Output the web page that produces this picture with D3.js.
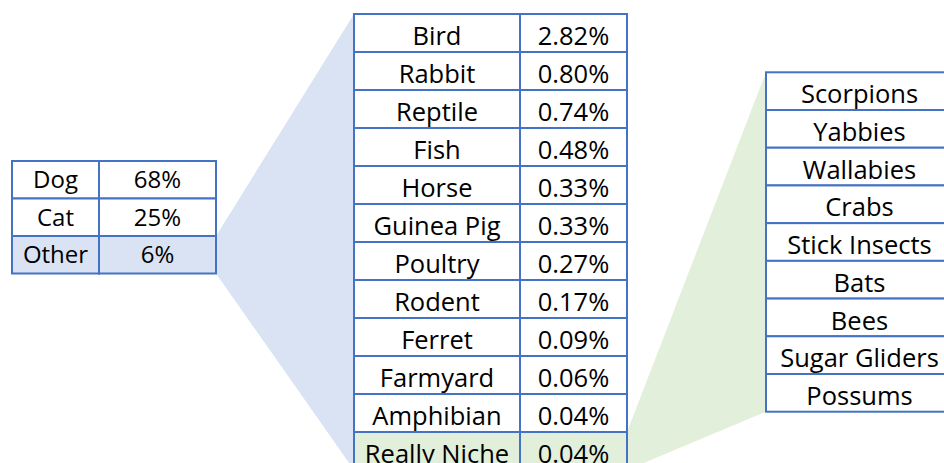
<!DOCTYPE html>
<html lang="en">
<head>
    <meta charset="UTF-8">
    <title>Pet Ownership Breakdown</title>
    <script src="https://d3js.org/d3.v7.min.js"></script>
    <style>
        body {
            margin: 0;
            background: #fff;
            overflow: hidden;
        }
        text {
            font-family: "Open Sans", Lato, sans-serif;
            fill: #000;
        }
    </style>
</head>
<body>
    <div id="chart"></div>

    <script>
        // main split
        const mainCats = ["Dog", "Cat", "Other"];
        const mainPcts = ["68%", "25%", "6%"];

        // breakdown of "Other"
        const otherCats = ["Bird", "Rabbit", "Reptile", "Fish", "Horse", "Guinea Pig",
                           "Poultry", "Rodent", "Ferret", "Farmyard", "Amphibian", "Really Niche"];
        const otherPcts = ["2.82%", "0.80%", "0.74%", "0.48%", "0.33%", "0.33%",
                           "0.27%", "0.17%", "0.09%", "0.06%", "0.04%", "0.04%"];

        // breakdown of "Really Niche"
        const nicheCats = ["Scorpions", "Yabbies", "Wallabies", "Crabs", "Stick Insects",
                           "Bats", "Bees", "Sugar Gliders", "Possums"];

        const width = 944, height = 463;
        const border = "#4472C4";
        const blueFill = "#DAE3F3";
        const greenFill = "#E2EFDA";

        const svg = d3.select("#chart")
            .append("svg")
            .attr("width", width)
            .attr("height", height);

        // row scales for the three tables
        const yMain = d3.scaleBand().domain(mainCats).range([161, 273.5]);
        const yOther = d3.scaleBand().domain(otherCats).range([14, 470]);
        const yNiche = d3.scaleBand().domain(nicheCats).range([72.3, 411.7]);

        // column edges
        const mainCols = [12, 99, 216];
        const otherCols = [354, 520, 627];
        const nicheCols = [766, 953];

        // connector shapes (drawn first, tables sit on top)
        const hiOther = yMain("Other");
        svg.append("polygon")
            .attr("points", [
                [mainCols[2], hiOther],
                [otherCols[0], yOther.range()[0]],
                [otherCols[0], yOther.range()[1]],
                [mainCols[2], hiOther + yMain.bandwidth()]
            ].join(" "))
            .attr("fill", blueFill);

        const hiNiche = yOther("Really Niche");
        svg.append("polygon")
            .attr("points", [
                [otherCols[2], hiNiche],
                [nicheCols[0], yNiche.range()[0]],
                [nicheCols[0], yNiche.range()[1]],
                [otherCols[2], hiNiche + yOther.bandwidth()]
            ].join(" "))
            .attr("fill", greenFill);

        function drawTable(cats, cols, y, fillFor) {
            const rows = svg.append("g").selectAll("g.row")
                .data(cats)
                .enter().append("g")
                .attr("class", "row")
                .attr("transform", d => `translate(0,${y(d)})`);

            for (let c = 0; c < cols.length - 1; c++) {
                rows.append("rect")
                    .attr("x", cols[c])
                    .attr("y", 0)
                    .attr("width", cols[c + 1] - cols[c])
                    .attr("height", y.bandwidth())
                    .attr("fill", d => fillFor(d))
                    .attr("stroke", border)
                    .attr("stroke-width", 2);
            }
            return rows;
        }

        function addText(rows, x, base, size, fn) {
            rows.append("text")
                .attr("x", x)
                .attr("y", base)
                .attr("text-anchor", "middle")
                .style("font-size", size + "px")
                .text(fn);
        }

        // left table
        const mainRows = drawTable(mainCats, mainCols, yMain,
            d => d === "Other" ? blueFill : "#fff");
        addText(mainRows, (mainCols[0] + mainCols[1]) / 2, 27, 24, d => d);
        addText(mainRows, (mainCols[1] + mainCols[2]) / 2, 27, 24, (d, i) => mainPcts[i]);

        // middle table
        const otherRows = drawTable(otherCats, otherCols, yOther,
            d => d === "Really Niche" ? greenFill : "#fff");
        addText(otherRows, (otherCols[0] + otherCols[1]) / 2, 31, 25.5, d => d);
        addText(otherRows, (otherCols[1] + otherCols[2]) / 2, 31, 25.5, (d, i) => otherPcts[i]);

        // right table (runs off the edge)
        const nicheRows = drawTable(nicheCats, nicheCols, yNiche, d => "#fff");
        addText(nicheRows, (nicheCols[0] + nicheCols[1]) / 2, 31, 25.5, d => d);
    </script>
</body>
</html>
